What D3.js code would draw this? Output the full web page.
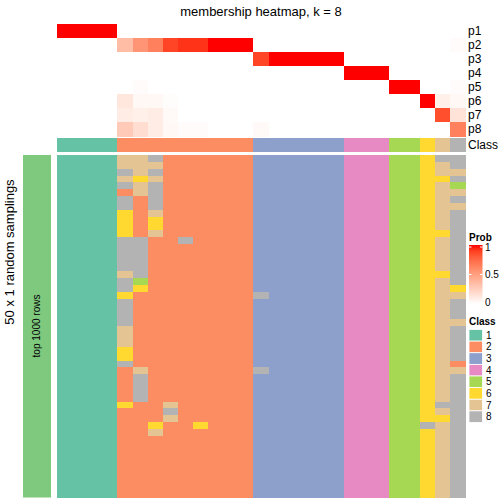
<!DOCTYPE html>
<html><head><meta charset="utf-8">
<script src="https://cdn.jsdelivr.net/npm/d3@7"></script>
<style>body{margin:0;background:#fff}svg{display:block}text{font-family:"Liberation Sans",Arial,sans-serif}</style>
</head><body><svg id="c" width="504" height="504"></svg>
<script>
const title = "membership heatmap, k = 8";
const probRows = ["p1","p2","p3","p4","p5","p6","p7","p8"];
const columnClass = [1,1,1,1,2,2,2,2,2,2,2,2,2,3,3,3,3,3,3,4,4,4,5,5,6,7,8];
const p1 = [1,1,1,1,0,0,0,0,0,0,0,0,0,0,0,0,0,0,0,0,0,0,0,0,0,0,0];
const p2 = [0,0,0,0,0.35,0.55,0.65,0.88,0.93,0.93,1,1,1,0,0,0,0,0,0,0,0,0,0,0,0,0,0.02];
const p3 = [0,0,0,0,0,0,0,0,0,0,0,0,0,0.88,1,1,1,1,1,0,0,0,0,0,0,0,0];
const p4 = [0,0,0,0,0,0,0,0,0,0,0,0,0,0,0,0,0,0,0,1,1,1,0,0,0,0,0];
const p5 = [0,0,0,0,0,0.02,0,0,0,0,0,0,0,0,0,0,0,0,0,0,0,0,1,1,0,0,0.02];
const p6 = [0,0,0,0,0.13,0.04,0.04,0.01,0,0,0,0,0,0,0,0,0,0,0,0,0,0,0,0,1,0.08,0.04];
const p7 = [0,0,0,0,0.1,0.08,0.1,0.03,0,0,0,0,0,0,0,0,0,0,0,0,0,0,0,0,0,0.85,0.15];
const p8 = [0,0,0,0,0.28,0.18,0.1,0.04,0.02,0.02,0,0,0,0.03,0,0,0,0,0,0,0,0,0,0,0,0,0.65];
const samplingRows = [
"111177822222233333344455688",
"111177722222233333344455678",
"111187822222233333344455677",
"111176722222233333344455668",
"111187822222233333344455675",
"111127822222233333344455677",
"111182822222233333344455678",
"111182822222233333344455677",
"111162722222233333344455678",
"111162622222233333344455678",
"111162622222233333344455678",
"111162722222233333344455668",
"111188228222233333344455678",
"111188222222233333344455678",
"111188222222233333344455678",
"111188222222233333344455678",
"111188222222233333344455678",
"111178222222233333344455668",
"111185222222233333344455678",
"111186222222233333344455676",
"111162222222283333344455677",
"111182222222233333344455678",
"111182222222233333344455678",
"111182222222233333344455678",
"111182222222233333344455677",
"111172222222233333344455678",
"111172222222233333344455678",
"111172222222233333344455678",
"111162222222233333344455678",
"111162222222233333344455678",
"111182222222233333344455672",
"111127222222283333344455677",
"111128222222233333344455678",
"111128222222233333344455678",
"111128222222233333344455678",
"111128222222233333344455678",
"111162272222233333344455688",
"111122282222233333344455678",
"111122272222233333344455668",
"111122622622233333344455878",
"111122722222233333344455678",
"111122222222233333344455678",
"111122222222233333344455678",
"111122222222233333344455678",
"111122222222233333344455678",
"111122222222233333344455678",
"111122222222233333344455678",
"111122222222233333344455678",
"111122222222233333344455678",
"111122222222233333344455678"
];
const classLabels = ["1","2","3","4","5","6","7","8"];
const classColors = ["#66C2A5","#FC8D62","#8DA0CB","#E78AC3","#A6D854","#FFD92F","#E5C494","#B3B3B3"];
const probTicks = [0,0.5,1];
const leftTitle = "50 x 1 random samplings";
const groupLabel = "top 1000 rows";

const probs = [p1,p2,p3,p4,p5,p6,p7,p8];
const svg = d3.select("#c");
const cols = d3.range(columnClass.length);
const x = d3.scaleBand().domain(cols).range([57,465]);
const yTop = d3.scaleBand().domain(probRows).range([24,136]);
const yBot = d3.scaleBand().domain(d3.range(samplingRows.length)).range([155,497.5]);
const probColor = d3.scaleLinear().domain([0,1]).range(["#ffffff","#ff0000"]).interpolate(d3.interpolateLab);
const classColor = d3.scaleOrdinal().domain(classLabels).range(classColors);

svg.append("text").attr("x",261).attr("y",16).attr("text-anchor","middle").attr("font-size",13).text(title);

// probability heatmap
const topCells = [];
probRows.forEach((r,i)=>cols.forEach(c=>topCells.push({r,c,v:probs[i][c]})));
svg.append("g").attr("shape-rendering","crispEdges").selectAll("rect").data(topCells).join("rect")
  .attr("x",d=>x(d.c)).attr("y",d=>yTop(d.r))
  .attr("width",x.bandwidth()+0.6).attr("height",yTop.bandwidth()+0.6)
  .attr("fill",d=>probColor(d.v));
svg.append("g").selectAll("text").data(probRows).join("text")
  .attr("x",468).attr("y",d=>yTop(d)+yTop.bandwidth()/2).attr("dy","0.35em")
  .attr("font-size",12).text(d=>d);

// class row
svg.append("g").attr("shape-rendering","crispEdges").selectAll("rect").data(cols).join("rect")
  .attr("x",c=>x(c)).attr("y",138).attr("width",x.bandwidth()+0.6).attr("height",14)
  .attr("fill",c=>classColor(String(columnClass[c])));
svg.append("text").attr("x",468).attr("y",145).attr("dy","0.35em").attr("font-size",12).text("Class");

// sampling heatmap
const botCells = [];
samplingRows.forEach((s,ri)=>cols.forEach(c=>botCells.push({ri,c,k:s[c]})));
svg.append("g").attr("shape-rendering","crispEdges").selectAll("rect").data(botCells).join("rect")
  .attr("x",d=>x(d.c)).attr("y",d=>yBot(d.ri))
  .attr("width",x.bandwidth()+0.6).attr("height",yBot.bandwidth()+0.6)
  .attr("fill",d=>classColor(d.k));

// left group bar
svg.append("rect").attr("x",23).attr("y",155).attr("width",28).attr("height",342.5).attr("fill","#7FC97F");
svg.append("text").attr("transform","translate(40,326) rotate(-90)").attr("text-anchor","middle")
  .attr("font-size",10).text(groupLabel);
svg.append("text").attr("transform","translate(14,252) rotate(-90)").attr("text-anchor","middle")
  .attr("font-size",13).text(leftTitle);

// Prob legend
const lg = svg.append("g");
lg.append("text").attr("x",469).attr("y",241).attr("font-size",10).attr("font-weight","bold").text("Prob");
const defs = svg.append("defs");
const grad = defs.append("linearGradient").attr("id","pg").attr("x1",0).attr("y1",1).attr("x2",0).attr("y2",0);
d3.range(0,1.0001,0.1).forEach(t=>grad.append("stop").attr("offset",t).attr("stop-color",probColor(t)));
const yLeg = d3.scaleLinear().domain([0,1]).range([302,247]);
lg.append("rect").attr("x",469).attr("y",245).attr("width",13.5).attr("height",59).attr("fill","url(#pg)");
probTicks.forEach(t=>{
  lg.append("line").attr("x1",469).attr("x2",471.5).attr("y1",yLeg(t)).attr("y2",yLeg(t)).attr("stroke","#fff");
  lg.append("line").attr("x1",480).attr("x2",482.5).attr("y1",yLeg(t)).attr("y2",yLeg(t)).attr("stroke","#fff");
  lg.append("text").attr("x",485).attr("y",yLeg(t)).attr("dy","0.35em").attr("font-size",10).text(t);
});

// Class legend
const cg = svg.append("g");
cg.append("text").attr("x",469).attr("y",325).attr("font-size",10).attr("font-weight","bold").text("Class");
const yCls = d3.scaleBand().domain(classLabels).range([329.5,422.5]);
cg.selectAll("rect").data(classLabels).join("rect")
  .attr("x",469).attr("y",d=>yCls(d)).attr("width",13.5).attr("height",yCls.bandwidth())
  .attr("fill",d=>classColor(d)).attr("stroke","#fff").attr("stroke-width",0.8);
cg.selectAll("text.l").data(classLabels).join("text").attr("class","l")
  .attr("x",486).attr("y",d=>yCls(d)+yCls.bandwidth()/2).attr("dy","0.35em").attr("font-size",10).text(d=>d);
</script></body></html>
